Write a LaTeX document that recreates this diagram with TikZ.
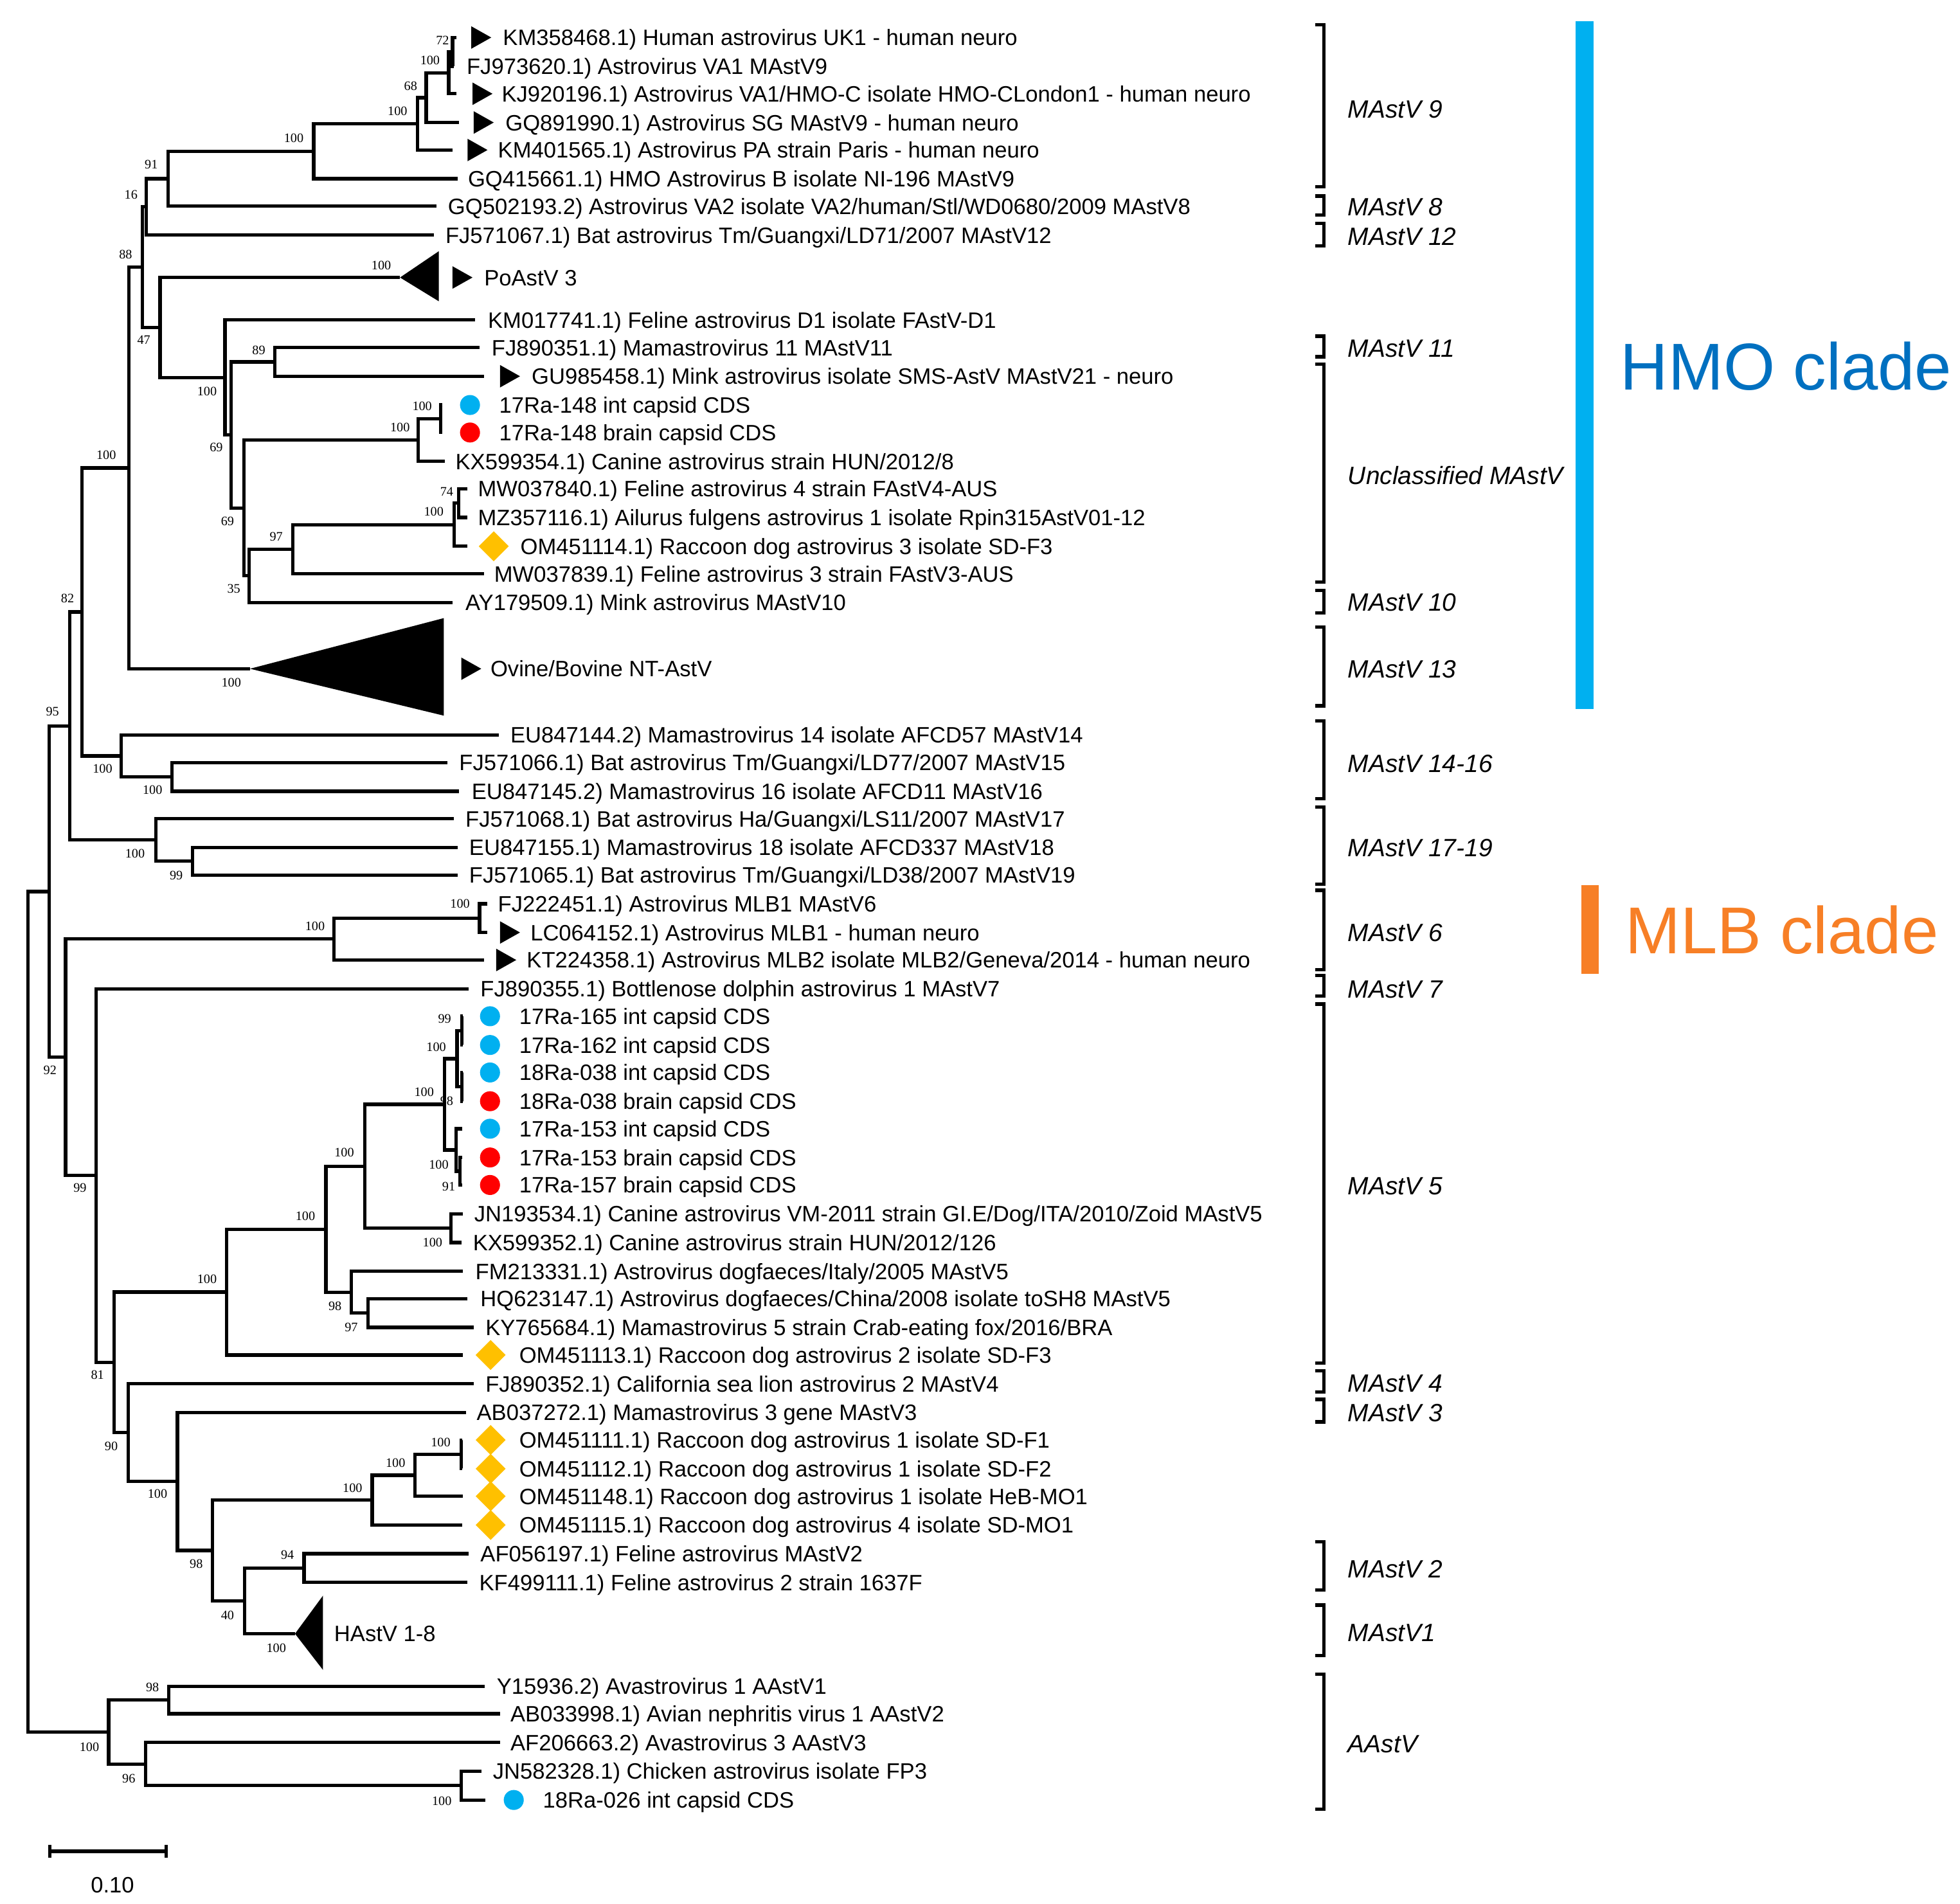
\documentclass[tikz,border=0pt]{standalone}
\usepackage{fontspec}
\setmainfont{Liberation Sans}
\newfontfamily\bsserif{Liberation Serif}
\usetikzlibrary{calc}

\definecolor{intblue}{RGB}{0,176,240}
\definecolor{brainred}{RGB}{255,0,0}
\definecolor{rdgold}{RGB}{255,192,0}
\definecolor{hmoblue}{RGB}{0,112,192}
\definecolor{mlborange}{RGB}{247,127,38}

\tikzset{
  branch/.style={line width=1.35pt},
  tax/.style={anchor=west, inner sep=0pt, font=\fontsize{8.9}{10}\selectfont, text height=6.4pt, text depth=0pt},
  bs/.style={inner sep=0pt, font=\bsserif\fontsize{5.2}{6}\selectfont, text height=3.5pt, text depth=0pt},
  grp/.style={anchor=west, inner sep=0pt, font=\fontsize{10}{12}\selectfont\itshape, text height=7.2pt, text depth=0pt},
  cladetxt/.style={anchor=west, inner sep=0pt, font=\fontsize{26.5}{30}\selectfont, text height=19pt, text depth=0pt},
}

% leaf: name, tip x, row y, text x, label
\newcommand\leaf[5]{%
  \coordinate (#1) at (#2,#3);
  \node[tax] (#1t) at (#4,#3) {#5};
}
% subtree: name, x, upper child, lower child
\newcommand\subtree[4]{%
  \coordinate (tmp) at ($(#3)!0.5!(#4)$);
  \coordinate (#1) at (#2,0 |- tmp);
  \draw[branch] (#3) -| (#1) |- (#4);
}

\begin{document}
\begin{tikzpicture}[x=0.5pt,y=-0.5pt]
  \useasboundingbox (0,0) rectangle (1568,1523);

  % leaves
  \leaf{L01}{365}{30}{402}{KM358468.1) Human astrovirus UK1 - human neuro}
  \leaf{L02}{363}{53}{373}{FJ973620.1) Astrovirus VA1 MAstV9}
  \leaf{L03}{365}{75}{401}{KJ920196.1) Astrovirus VA1/HMO-C isolate HMO-CLondon1 - human neuro}
  \leaf{L04}{367}{98}{404}{GQ891990.1) Astrovirus SG MAstV9 - human neuro}
  \leaf{L05}{362}{120}{398}{KM401565.1) Astrovirus PA strain Paris - human neuro}
  \leaf{L06}{366}{143}{374}{GQ415661.1) HMO Astrovirus B isolate NI-196 MAstV9}
  \leaf{L07}{349}{165}{358}{GQ502193.2) Astrovirus VA2 isolate VA2/human/Stl/WD0680/2009 MAstV8}
  \leaf{L08}{347}{188}{356}{FJ571067.1) Bat astrovirus Tm/Guangxi/LD71/2007 MAstV12}
  \leaf{L10}{380}{256}{390}{KM017741.1) Feline astrovirus D1 isolate FAstV-D1}
  \leaf{L11}{383.6}{278}{393}{FJ890351.1) Mamastrovirus 11 MAstV11}
  \leaf{L12}{387}{301}{425}{GU985458.1) Mink astrovirus isolate SMS-AstV MAstV21 - neuro}
  \leaf{L13}{354}{324}{399}{17Ra-148 int capsid CDS}
  \leaf{L14}{354}{346}{399}{17Ra-148 brain capsid CDS}
  \leaf{L15}{356}{369}{364}{KX599354.1) Canine astrovirus strain HUN/2012/8}
  \leaf{L16}{374}{391}{382}{MW037840.1) Feline astrovirus 4 strain FAstV4-AUS}
  \leaf{L17}{374}{414}{382}{MZ357116.1) Ailurus fulgens astrovirus 1 isolate Rpin315AstV01-12}
  \leaf{L18}{374}{437}{416}{OM451114.1) Raccoon dog astrovirus 3 isolate SD-F3}
  \leaf{L19}{387}{459}{395}{MW037839.1) Feline astrovirus 3 strain FAstV3-AUS}
  \leaf{L20}{362}{482}{372}{AY179509.1) Mink astrovirus MAstV10}
  \leaf{L22}{399}{588}{408}{EU847144.2) Mamastrovirus 14 isolate AFCD57 MAstV14}
  \leaf{L23}{358}{610}{367}{FJ571066.1) Bat astrovirus Tm/Guangxi/LD77/2007 MAstV15}
  \leaf{L24}{367}{633}{377}{EU847145.2) Mamastrovirus 16 isolate AFCD11 MAstV16}
  \leaf{L25}{363}{655}{372}{FJ571068.1) Bat astrovirus Ha/Guangxi/LS11/2007 MAstV17}
  \leaf{L26}{366}{678}{375}{EU847155.1) Mamastrovirus 18 isolate AFCD337 MAstV18}
  \leaf{L27}{366}{700}{375}{FJ571065.1) Bat astrovirus Tm/Guangxi/LD38/2007 MAstV19}
  \leaf{L28}{390}{723}{398}{FJ222451.1) Astrovirus MLB1 MAstV6}
  \leaf{L29}{390}{746}{424}{LC064152.1) Astrovirus MLB1 - human neuro}
  \leaf{L30}{387}{768}{421}{KT224358.1) Astrovirus MLB2 isolate MLB2/Geneva/2014 - human neuro}
  \leaf{L31}{375}{791}{384}{FJ890355.1) Bottlenose dolphin astrovirus 1 MAstV7}
  \leaf{L32}{370}{813}{415}{17Ra-165 int capsid CDS}
  \leaf{L33}{370}{836}{415}{17Ra-162 int capsid CDS}
  \leaf{L34}{370}{858}{415}{18Ra-038 int capsid CDS}
  \leaf{L35}{370}{881}{415}{18Ra-038 brain capsid CDS}
  \leaf{L36}{370}{903}{415}{17Ra-153 int capsid CDS}
  \leaf{L37}{370}{926}{415}{17Ra-153 brain capsid CDS}
  \leaf{L38}{370}{948}{415}{17Ra-157 brain capsid CDS}
  \leaf{L39}{370.5}{971}{379}{JN193534.1) Canine astrovirus VM-2011 strain GI.E/Dog/ITA/2010/Zoid MAstV5}
  \leaf{L40}{369}{994}{378}{KX599352.1) Canine astrovirus strain HUN/2012/126}
  \leaf{L41}{370.5}{1017}{380}{FM213331.1) Astrovirus dogfaeces/Italy/2005 MAstV5}
  \leaf{L42}{374}{1039}{384}{HQ623147.1) Astrovirus dogfaeces/China/2008 isolate toSH8 MAstV5}
  \leaf{L43}{379}{1062}{388}{KY765684.1) Mamastrovirus 5 strain Crab-eating fox/2016/BRA}
  \leaf{L44}{370.5}{1084}{415}{OM451113.1) Raccoon dog astrovirus 2 isolate SD-F3}
  \leaf{L45}{379}{1107}{388}{FJ890352.1) California sea lion astrovirus 2 MAstV4}
  \leaf{L46}{373}{1130}{381}{AB037272.1) Mamastrovirus 3 gene MAstV3}
  \leaf{L47}{370}{1152}{415}{OM451111.1) Raccoon dog astrovirus 1 isolate SD-F1}
  \leaf{L48}{370}{1175}{415}{OM451112.1) Raccoon dog astrovirus 1 isolate SD-F2}
  \leaf{L49}{370.5}{1197}{415}{OM451148.1) Raccoon dog astrovirus 1 isolate HeB-MO1}
  \leaf{L50}{370}{1220}{415}{OM451115.1) Raccoon dog astrovirus 4 isolate SD-MO1}
  \leaf{L51}{375}{1243}{384}{AF056197.1) Feline astrovirus MAstV2}
  \leaf{L52}{374}{1266}{383}{KF499111.1) Feline astrovirus 2 strain 1637F}
  \leaf{L54}{387.5}{1349}{397}{Y15936.2) Avastrovirus 1 AAstV1}
  \leaf{L55}{400}{1371}{408}{AB033998.1) Avian nephritis virus 1 AAstV2}
  \leaf{L56}{400}{1394}{408}{AF206663.2) Avastrovirus 3 AAstV3}
  \leaf{L57}{385}{1417}{394}{JN582328.1) Chicken astrovirus isolate FP3}
  \leaf{L58}{388.5}{1440}{434}{18Ra-026 int capsid CDS}

  % collapsed clades
  \coordinate (PoA) at (320,222);
  \fill (PoA) -- (351,201) -- (351,241) -- cycle;
  \node[tax] (PoAt) at (387,222) {PoAstV 3};
  \coordinate (OvA) at (200,535);
  \fill (OvA) -- (355,494.5) -- (355,572.5) -- cycle;
  \node[tax] (OvAt) at (392,535) {Ovine/Bovine NT-AstV};
  \coordinate (HAs) at (236,1307);
  \fill (HAs) -- (258.4,1276.5) -- (258.4,1336) -- cycle;
  \node[tax] (HAst) at (267,1307) {HAstV 1-8};

  % markers
  \foreach \x/\y in {377/30, 378/75, 379/98, 374/120, 362/222, 400/301, 369/535, 400/746, 397/768}
    \fill (\x,\y-9) -- (\x+16,\y) -- (\x,\y+9) -- cycle;
  \foreach \x/\y/\c in {376/324/intblue, 376/346/brainred, 392/813/intblue, 392/836/intblue,
      392/858/intblue, 392/881/brainred, 392/903/intblue, 392/926/brainred, 392/948/brainred,
      411/1440/intblue}
    \fill[\c] (\x,\y) circle[radius=8];
  \foreach \x/\y in {395/437, 392.5/1084, 392.5/1152, 392.5/1175, 392.5/1197, 392.5/1220}
    \fill[rdgold] (\x-12,\y) -- (\x,\y-12) -- (\x+12,\y) -- (\x,\y+12) -- cycle;

  % tree
  \subtree{n72}{362}{L01}{L02}
  \subtree{n100a}{359}{n72}{L03}
  \subtree{n68}{341}{n100a}{L04}
  \subtree{n100b}{334}{n68}{L05}
  \subtree{n100c}{251}{n100b}{L06}
  \subtree{n91}{134.5}{n100c}{L07}
  \subtree{n16}{117}{n91}{L08}
  \subtree{n89}{219.7}{L11}{L12}
  \subtree{n100f}{352.5}{L13}{L14}
  \subtree{n100e}{334.4}{n100f}{L15}
  \subtree{n74}{367}{L16}{L17}
  \subtree{n100g}{363.3}{n74}{L18}
  \subtree{n97}{234.4}{n100g}{L19}
  \subtree{n35}{199.3}{n97}{L20}
  \subtree{n69b}{195}{n100e}{n35}
  \subtree{n69a}{185}{n89}{n69b}
  \subtree{n100d}{180}{L10}{n69a}
  \subtree{n47}{128}{PoA}{n100d}
  \subtree{n88}{114}{n16}{n47}
  \subtree{nQ}{103}{n88}{OvA}
  \subtree{n100j}{137.7}{L23}{L24}
  \subtree{n100h}{97}{L22}{n100j}
  \subtree{n82}{65.6}{nQ}{n100h}
  \subtree{n99}{154}{L26}{L27}
  \subtree{n100i}{124.6}{L25}{n99}
  \subtree{n95}{55.7}{n82}{n100i}
  \subtree{n100l}{383.6}{L28}{L29}
  \subtree{nMLB}{267.2}{n100l}{L30}
  \subtree{n99c}{369.5}{L32}{L33}
  \subtree{n98}{369.5}{L34}{L35}
  \subtree{nU}{365.6}{n99c}{n98}
  \subtree{n91b}{368}{L37}{L38}
  \subtree{nL}{365}{L36}{n91b}
  \subtree{n100m}{355.7}{nU}{nL}
  \subtree{n100o}{360.7}{L39}{L40}
  \subtree{n100n}{291.8}{n100m}{n100o}
  \subtree{n97b}{294.4}{L42}{L43}
  \subtree{n98b}{281}{L41}{n97b}
  \subtree{n100p}{260.7}{n100n}{n98b}
  \subtree{n100q}{181.3}{n100p}{L44}
  \subtree{n100u}{368.9}{L47}{L48}
  \subtree{n100t}{332.1}{n100u}{L49}
  \subtree{n100s}{297.7}{n100t}{L50}
  \subtree{n94}{243.3}{L51}{L52}
  \subtree{n40}{195.7}{n94}{HAs}
  \subtree{n98c}{169.8}{n100s}{n40}
  \subtree{n100r}{142}{L46}{n98c}
  \subtree{n90}{102.6}{L45}{n100r}
  \subtree{n81}{91.1}{n100q}{n90}
  \subtree{n99b}{77}{L31}{n81}
  \subtree{n92}{52.5}{nMLB}{n99b}
  \subtree{nA}{39.3}{n95}{n92}
  \subtree{n98d}{135.1}{L54}{L55}
  \subtree{n100w}{368.9}{L57}{L58}
  \subtree{n96}{116.4}{L56}{n100w}
  \subtree{n100v}{86.9}{n98d}{n96}
  \subtree{root}{22.3}{nA}{n100v}

  % bootstrap values
  \foreach \x/\y/\v [count=\i] in {354/32/72, 344/48/100, 328.5/68.6/68, 318/89/100, 235/110.4/100,
      121/131.3/91, 104.8/155.6/16, 100.5/203.5/88, 305/212/100, 115/272/47, 207/280/89,
      165.6/313/100, 173/358/69, 182/417/69, 187/471/35, 337.7/325/100, 320/342/100,
      357.4/393/74, 347/409/100, 221/429/97, 85/364/100, 185/546/100, 54/478.7/82, 42/569/95,
      82/615/100, 122/632/100, 108/683/100, 141/700/99, 368/723/100, 252/741/100, 40/856/92,
      64/950/99, 355.7/815/99, 349/837.5/100, 339.3/873.4/100, 357.4/881/98, 351/931.7/100,
      359/949/91, 275.4/922/100, 244.3/972.8/100, 346/994/100, 165.6/1023.4/100, 268/1045/98,
      281/1062/97, 78/1100/81, 89/1157/90, 126/1195/100, 282/1190.6/100, 316.4/1170.5/100,
      352.5/1153.7/100, 157/1251/98, 230/1244/94, 182/1292/40, 221/1318.5/100, 122/1350/98,
      71.5/1397.7/100, 103/1423/96, 353.4/1440.7/100}
    \node[bs] (bs\i) at (\x,\y) {\v};

  % group brackets
  \foreach \a/\b/\m/\t [count=\i] in {19.7/149.2/87/MAstV 9, 156.8/172.2/165.5/MAstV 8,
      178.8/196.8/189/MAstV 12, 269/285.4/278.5/MAstV 11, 291.3/465.7/380.5/Unclassified MAstV,
      472.3/490.3/481.5/MAstV 10, 501.8/564.7/535/MAstV 13, 576.8/639.1/610.5/MAstV 14-16,
      645.6/707.3/678/MAstV 17-19, 712.2/775.6/746/MAstV 6, 780.2/797/791/MAstV 7,
      803.2/1090.6/948.5/MAstV 5, 1096.5/1113.6/1106.5/MAstV 4, 1119.5/1137.5/1130/MAstV 3,
      1233.3/1272/1255/MAstV 2, 1284.1/1324.5/1306/MAstV1, 1339.2/1447.4/1395/AAstV} {
    \draw[branch] (1052,\a) -- (1059,\a) -- (1059,\b) -- (1052,\b);
    \node[grp] (grp\i) at (1078,\m) {\t};
  }

  % clade bars
  \fill[intblue] (1260.5,17) rectangle (1275,567);
  \node[cladetxt, text=hmoblue] (hmo) at (1296,293) {HMO clade};
  \fill[mlborange] (1265,708) rectangle (1279,779);
  \node[cladetxt, text=mlborange] (mlb) at (1300,744) {MLB clade};

  % scale bar
  \draw[branch] (40,1476) -- (40,1486) (40,1481) -- (133,1481) (133,1476) -- (133,1486);
  \node[tax, anchor=center] (sbar) at (90,1508) {0.10};
\end{tikzpicture}
\end{document}
